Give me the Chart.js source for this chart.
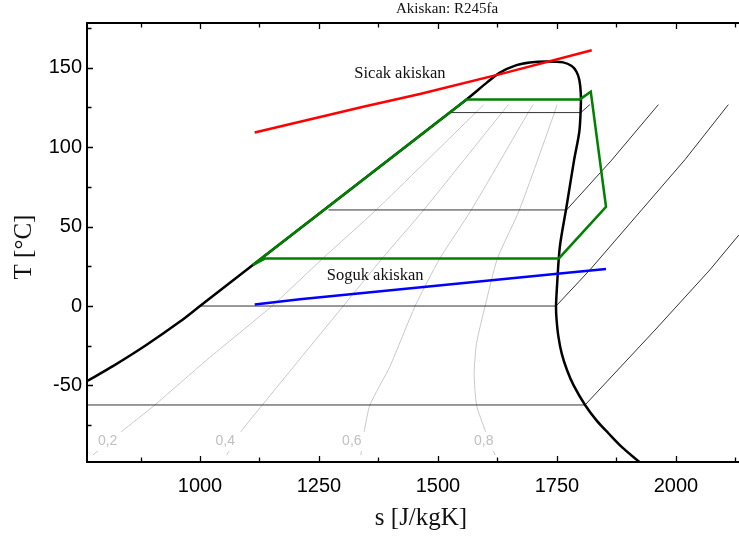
<!DOCTYPE html>
<html>
<head>
<meta charset="utf-8">
<title>R245fa T-s</title>
<script src="https://cdn.jsdelivr.net/npm/chart.js@4.4.1/dist/chart.umd.min.js"></script>
<style>
  html, body { margin: 0; padding: 0; background: #fff; }
</style>
</head>
<body>
<canvas id="tsChart" width="739" height="537"></canvas>
<script>
// saturation dome: liquid side up to the critical point, then back down the vapour side
const domeS = [763, 818, 888, 958, 1000, 1111, 1560, 1602, 1630, 1665, 1693, 1728,
  1763, 1781, 1791, 1797, 1800, 1800, 1797, 1786, 1770, 1756, 1750, 1748, 1749, 1753, 1760, 1771,
  1785, 1809, 1833, 1858, 1887, 1924];
const domeT = [-47.2, -37.7, -24.4, -9.8, 0, 25.8, 130.1, 140.5, 147, 151.7, 153.4, 154,
  153.4, 151.1, 147.5, 142.3, 134, 125.5, 110, 92, 62.5, 37.3, 12.2, 0, -8, -19.3, -30, -40.3,
  -50, -62.3, -72, -80.1, -89, -98.4];

// constant quality lines
const q02S = [775, 835, 905, 1014, 1151, 1258, 1370, 1580, 1596];
const q02T = [-93.8, -79.1, -62.3, -34, 0, 30, 60.5, 122, 126.8];
const q04S = [1056, 1086, 1131, 1301, 1383, 1470, 1635, 1648];
const q04T = [-93.8, -79.1, -62.3, 0, 30, 60.5, 122, 126.8];
const q06S = [1338, 1345, 1357, 1399, 1452, 1504, 1570, 1690, 1700];
const q06T = [-93.8, -79.1, -62.3, -38, 0, 30, 60.5, 122, 126.8];
const q08S = [1620, 1600, 1581, 1576, 1581, 1599, 1625, 1671, 1745, 1750];
const q08T = [-93.8, -79.1, -62.3, -42.4, -23.5, 0, 30, 60.5, 122, 126.8];
const qualityNames = ['0,2', '0,4', '0,6', '0,8'];

// isobars: flat through the dome, then rising in the superheated region
const isoAS = [763, 1809, 1956, 2071, 2132];
const isoAT = [-62.3, -62.3, -15.1, 22.7, 44.7];
const isoBS = [1000, 1748, 1819, 2019, 2110];
const isoBT = [0, 0, 22.7, 92.2, 126.8];
const isoCS = [1270, 1770, 1865, 1963];
const isoCT = [60.5, 60.5, 91.9, 126.8];
const isoDS = [1525, 1800, 1819];
const isoDT = [121.8, 121.8, 126.8];

// ORC cycle
const cycleS = [1111, 1560, 1798, 1821, 1853, 1754, 1137, 1111];
const cycleT = [25.8, 130.1, 130.1, 134.9, 62.5, 30, 30, 25.8];

// heat source and heat sink streams
const hotS = [1115, 1343, 1462, 1637, 1823];
const hotT = [109.3, 125.5, 133.5, 146.5, 161];
const coldS = [1115, 1210, 1756, 1853];
const coldT = [1, 4.3, 20.5, 23.3];

// axis ticks
const sTicks = [875, 1000, 1125, 1250, 1375, 1500, 1625, 1750, 1875, 2000, 2125];
const sLabels = [1000, 1250, 1500, 1750, 2000];
const tTicks = [-75, -50, -25, 0, 25, 50, 75, 100, 125, 150, 175];
const tLabels = [-50, 0, 50, 100, 150];

const pts = (s, t) => s.map((v, i) => ({ x: v, y: t[i] }));

function line(data, color, width, order, tension) {
  return {
    data, borderColor: color, borderWidth: width, order,
    showLine: true, pointRadius: 0, tension: tension || 0, fill: false
  };
}

const qualityColor = '#c8c8c8';
const isoColor = '#333';

const decor = {
  id: 'decor',
  afterDatasetsDraw(chart) {
    const { ctx, chartArea: a, scales: { x, y } } = chart;
    ctx.save();

    // quality labels cut a small gap into their lines
    const tags = [806, 1053, 1319, 1596];
    ctx.font = '14px "Liberation Sans", Arial, sans-serif';
    ctx.textAlign = 'center';
    ctx.textBaseline = 'middle';
    tags.forEach((s, i) => {
      const px = x.getPixelForValue(s);
      const py = y.getPixelForValue(-85);
      ctx.fillStyle = '#fff';
      ctx.fillRect(px - 13, py - 9, 31, 19);
      ctx.fillStyle = '#c0c0c0';
      ctx.fillText(qualityNames[i], px, py);
    });

    // stream names
    ctx.fillStyle = '#111';
    ctx.font = '16.5px "Liberation Serif", "Times New Roman", serif';
    ctx.fillText('Sicak akiskan', x.getPixelForValue(1420), y.getPixelForValue(146.5));
    ctx.fillText('Soguk akiskan', x.getPixelForValue(1368), y.getPixelForValue(18.9));

    // frame: left, bottom and top lines
    ctx.strokeStyle = '#000';
    ctx.lineWidth = 2;
    ctx.beginPath();
    ctx.moveTo(a.right, a.top);
    ctx.lineTo(a.left, a.top);
    ctx.lineTo(a.left, a.bottom);
    ctx.lineTo(a.right, a.bottom);
    ctx.stroke();

    // inward tick marks
    ctx.lineWidth = 1.3;
    ctx.beginPath();
    sTicks.forEach(v => {
      const px = Math.round(x.getPixelForValue(v)) + 0.5;
      const len = sLabels.includes(v) ? 6 : 4.5;
      ctx.moveTo(px, a.bottom);
      ctx.lineTo(px, a.bottom - len);
      ctx.moveTo(px, a.top);
      ctx.lineTo(px, a.top + len);
    });
    tTicks.forEach(v => {
      const py = Math.round(y.getPixelForValue(v)) + 0.5;
      const len = tLabels.includes(v) ? 6 : 4.5;
      ctx.moveTo(a.left, py);
      ctx.lineTo(a.left + len, py);
    });
    ctx.stroke();

    // titles
    ctx.fillStyle = '#111';
    ctx.font = '15px "Liberation Serif", "Times New Roman", serif';
    ctx.fillText('Akiskan: R245fa', 447, 9);
    ctx.font = '25px "Liberation Serif", "Times New Roman", serif';
    ctx.fillText('s [J/kgK]', 421, 518);
    ctx.translate(24, 247);
    ctx.rotate(-Math.PI / 2);
    ctx.fillText('T [°C]', 0, 0);
    ctx.restore();
  }
};

const tickFont = { family: '"Liberation Sans", Arial, sans-serif', size: 20 };

new Chart(document.getElementById('tsChart'), {
  type: 'scatter',
  data: {
    datasets: [
      line(pts(hotS, hotT), '#ff0000', 2.5, 1),
      line(pts(coldS, coldT), '#0000ff', 2.5, 2),
      line(pts(cycleS, cycleT), '#008000', 2.5, 3),
      line(pts(domeS, domeT), '#000', 2.5, 4, 0.3),
      line(pts(isoAS, isoAT), isoColor, 1, 5),
      line(pts(isoBS, isoBT), isoColor, 1, 5),
      line(pts(isoCS, isoCT), isoColor, 1, 5),
      line(pts(isoDS, isoDT), isoColor, 1, 5),
      line(pts(q02S, q02T), qualityColor, 1, 6, 0.2),
      line(pts(q04S, q04T), qualityColor, 1, 6, 0.2),
      line(pts(q06S, q06T), qualityColor, 1, 6, 0.2),
      line(pts(q08S, q08T), qualityColor, 1, 6, 0.2)
    ]
  },
  options: {
    responsive: false,
    animation: false,
    devicePixelRatio: 1,
    layout: { padding: { top: 23, right: 0, bottom: 0, left: 0 } },
    plugins: { legend: { display: false }, tooltip: { enabled: false }, title: { display: false } },
    scales: {
      x: {
        type: 'linear', min: 762.6, max: 2132.4,
        grid: { display: false, drawTicks: false },
        border: { display: false },
        afterBuildTicks: scale => { scale.ticks = sTicks.map(v => ({ value: v })); },
        afterFit: scale => { scale.height = 75; scale.paddingLeft = 0; scale.paddingRight = 0; },
        ticks: {
          font: tickFont, color: '#000', padding: 12, maxRotation: 0, autoSkip: false,
          callback: v => (sLabels.includes(v) ? String(v) : '')
        }
      },
      y: {
        type: 'linear', min: -98.2, max: 178.2,
        grid: { display: false, drawTicks: false },
        border: { display: false },
        afterBuildTicks: scale => { scale.ticks = tTicks.map(v => ({ value: v })); },
        afterFit: scale => { scale.width = 87; scale.paddingTop = 0; scale.paddingBottom = 0; },
        ticks: {
          font: tickFont, color: '#000', padding: 5, autoSkip: false,
          callback: v => (tLabels.includes(v) ? String(v) : '')
        }
      }
    }
  },
  plugins: [decor]
});
</script>
</body>
</html>
